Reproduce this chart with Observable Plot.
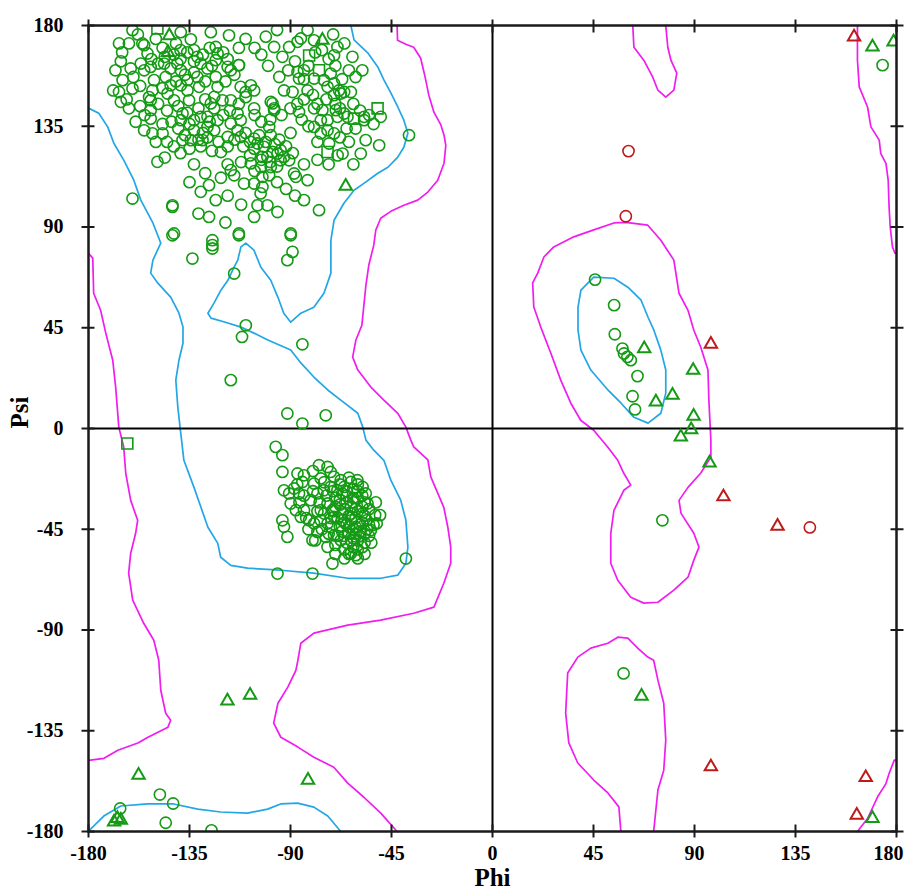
<!DOCTYPE html>
<html>
<head>
<meta charset="utf-8">
<script src="https://cdn.jsdelivr.net/npm/d3@7"></script>
<script src="https://cdn.jsdelivr.net/npm/@observablehq/plot@0.6"></script>
<style>
html, body { margin: 0; padding: 0; background: #fff; }
#chart { width: 907px; height: 896px; }
</style>
</head>
<body>
<div id="chart"></div>
<script>
// ---------- tick values ----------
const phiTicks = [-180, -135, -90, -45, 0, 45, 90, 135, 180];
const psiTicks = [-180, -135, -90, -45, 0, 45, 90, 135, 180];

// ---------- contours [phi, psi] ----------
const allowedMain = [[-42.5,180],[-42.3,173.4],[-38.6,171.6],[-35.1,170.3],[-32,165.4],[-30.2,157.8],[-28.4,149],[-26.1,141.3],[-23,135.6],[-21.6,131],[-20.8,126.5],[-21.6,118.5],[-24.4,110.9],[-28.8,105.6],[-33.3,102],[-39.5,99.7],[-45.3,97],[-49.8,93.9],[-52,88.6],[-52.9,81.9],[-55.1,73],[-56.4,64],[-57.3,55.1],[-58.2,46.1],[-60.9,39.4],[-62.3,31.9],[-60,26.1],[-54.2,18.5],[-48.4,12.7],[-42.2,6.8],[-38.6,0.6],[-36.4,-5.2],[-35.1,-8.2],[-28.8,-14],[-27.5,-21.6],[-24.4,-28.9],[-21.7,-35.2],[-19.9,-44.1],[-18.6,-53],[-18.6,-60.2],[-21.7,-69.1],[-26.1,-79.8],[-35.1,-82.5],[-49.8,-85.6],[-64.5,-87.8],[-79.6,-91.4],[-85.4,-95.9],[-86.7,-103.5],[-87.6,-108],[-91.2,-115.5],[-95.6,-122.7],[-97.5,-131.6],[-94.3,-137.9],[-86.7,-142.3],[-79.6,-146.8],[-70.7,-151.3],[-64.5,-158.4],[-57.3,-164.7],[-49.8,-171.8],[-42.5,-180]];
const allowedLeft = [[-180,78.3],[-178.1,76.1],[-177.7,60.4],[-174.6,52.8],[-172.3,42.6],[-169.2,30.5],[-167.9,18.5],[-166.5,0.6],[-164.3,-8.4],[-163.4,-20],[-161.2,-32.1],[-158.1,-41],[-159,-46.8],[-161.2,-55.7],[-162.1,-64.6],[-160.3,-76.7],[-155.4,-87],[-150.9,-94.6],[-148.7,-103.5],[-147.8,-116.9],[-145.6,-127.2],[-143.4,-130.3],[-144.6,-133.4],[-153.5,-137.9],[-158,-140.5],[-166.9,-143.7],[-173.1,-147.3],[-180,-148.2]];
const allowedRightTop = [[162.6,180],[162.6,164.5],[163.4,152.6],[167.1,143.6],[168.6,134.7],[172.3,128.8],[173,122.8],[175.3,118.4],[176.3,110.9],[176.7,99],[177.2,90],[178.2,81.1],[179.3,78.3],[180,78.3]];
const allowedRightBottom = [[162.6,-180],[167.1,-174.2],[171.6,-164.5],[175.3,-158.6],[176.7,-154.1],[179,-148.1],[180,-148.2]];
const allowedTongue = [[62.5,180],[63,170.3],[67.4,164.5],[71.4,156.9],[73.7,151.1],[77.2,148],[80.8,151.1],[82.1,158.7],[79.5,164.5],[78.1,170.3],[77.2,180]];
const allowedBlob = [[57.2,-180],[56.3,-169],[51.4,-162.8],[45.1,-157],[38,-149.4],[34,-140.4],[32.6,-127.1],[33.5,-109.2],[38,-102.1],[43.8,-98.1],[51.4,-95.9],[55.8,-93.2],[60.3,-93.6],[64.7,-98.1],[69.2,-102.1],[71.8,-103.5],[73.7,-112.4],[76.3,-122.7],[77.2,-139.2],[76.3,-152.6],[73.7,-161.5],[71.8,-180]];
const allowedAlphaL = [[59.4,92.1],[69.2,90.8],[75,84.1],[80.8,75.2],[83.1,60.4],[87.1,52.8],[89.7,43.9],[92.8,36.3],[96,26.1],[96.4,12.7],[97.3,-5.2],[97.3,-12.8],[92.8,-19.9],[87.1,-26.3],[83.1,-32.1],[84,-37.9],[89.7,-46.8],[92,-53],[89.7,-58.8],[87.1,-66.4],[80.8,-72.2],[73.7,-77.6],[67.4,-78],[61.6,-75.4],[55.8,-67.8],[52.7,-60.2],[52.7,-46.8],[54.1,-36.6],[58.5,-27.6],[61.6,-25.3],[58.5,-20],[55.8,-14.2],[51.4,-8.4],[45.1,-0.8],[39.3,3.7],[34.9,11.3],[30.4,21.6],[26,33.6],[21.5,45.3],[18.4,54.3],[17.9,65],[20.2,69.5],[22.9,76.6],[27.3,81.1],[36.2,85.6],[45.1,88.7],[54.1,91.8],[59.4,92.1]];
const favoredMain = [[-180,143.1],[-175.4,140.8],[-171.4,134.6],[-168.7,127.4],[-164.3,119.9],[-159.8,110.9],[-156.7,102],[-151.3,91.8],[-147.8,82.8],[-151.3,75.2],[-152.3,69.4],[-149.1,64.9],[-143.3,58.6],[-139.7,51.5],[-137.9,45.3],[-137.9,38.1],[-139.7,30.5],[-141.1,21.6],[-140.2,9.5],[-138.9,-2.1],[-137.5,-14.2],[-133,-26.3],[-129.9,-35.2],[-126.8,-44.1],[-122.4,-51.3],[-121.1,-57.5],[-116.6,-61.1],[-109.1,-62.4],[-94.4,-63.3],[-79.7,-64.6],[-64.5,-66.9],[-49.8,-66.9],[-42.2,-65.5],[-38.6,-60.2],[-37.7,-53],[-38.6,-40.9],[-40.9,-32],[-45.3,-23.1],[-48.4,-14.2],[-52.9,-9.7],[-56.4,-5.2],[-57.8,0.6],[-60,6.8],[-67.6,12.7],[-73.4,17.2],[-79.6,23],[-85.4,29.3],[-89.9,35.1],[-100.1,39.5],[-106.3,42.6],[-112.1,45.3],[-117.9,47.1],[-125.4,49.3],[-126.8,51.5],[-124.1,56],[-121,61.8],[-117.9,66.2],[-115.2,72],[-113.5,75.2],[-112.1,81.1],[-109.9,82.8],[-106.3,79.7],[-103.2,72],[-98.8,66.2],[-95.6,58.6],[-93,51.5],[-89.9,47.5],[-85.4,51.5],[-79.6,54.2],[-75.1,60.4],[-72,69.4],[-72,84.1],[-70.6,93],[-66.2,100.6],[-61.7,106.4],[-57.3,109.5],[-51.1,114],[-46.6,116.7],[-42.2,121.2],[-39.5,125.6],[-37.7,131.9],[-39.5,137.7],[-42.2,143.6],[-45.3,149.9],[-48.4,155.7],[-51.1,161.5],[-55.6,167.8],[-61.7,173.6],[-63.1,180]];
const favoredBottom = [[-180,-179.8],[-173.2,-173.1],[-165.6,-168.6],[-153.6,-167.7],[-142,-167.7],[-131.3,-170],[-121.1,-171.3],[-109.1,-171.8],[-100.2,-170],[-94.4,-167.7],[-86.8,-167.3],[-79.6,-169.1],[-73.4,-173.1],[-67.6,-180]];
const favoredAlphaL = [[45.1,67.6],[54.1,67.1],[60.3,63.1],[66.2,57.3],[69.3,49.7],[71.9,43.9],[75,35],[77.2,26.1],[77.2,15.8],[75,6.8],[69.3,2.4],[63,5],[57.3,11.3],[51.5,17.1],[43.8,26.1],[39.4,35],[38.1,43.9],[38.1,54.2],[39.4,61.8],[45.1,67.6]];

// ---------- residues [phi, psi] ----------
const greenCircles = [
[-160.4,177.9],[-166.4,172],[-155.2,171.2],[-138.9,177],[-141,172],[-139,169],[-134.4,173.8],[-133,169],[-125.5,177],[-117.4,175.6],[-123.3,170.4],[-122.5,167.5],[-123.3,164.5],[-116.6,160],[-113,162.3],
[-165.6,164],[-161.2,160.8],[-164.8,155.6],[-166.4,150.3],[-165.6,145.9],[-162,143],[-160.4,151.8],[-156,172],[-153.7,167.5],[-156.7,163],[-152.3,161.5],[-155.2,160],
[-150.8,155.6],[-151.5,151],[-152.3,146.6],[-152.3,142.2],[-152.3,138.4],[-155.2,133.2],[-151.5,131.8],[-147,131.8],
[-146.3,163],[-143.4,160.8],[-140.4,163],[-138.9,160],[-145.6,157],[-143.4,153.3],[-144.8,149.6],[-141.9,146.6],[-138.9,153.3],[-135.9,155.6],[-135.9,151],[-135.2,146.6],[-138.1,140.7],[-138.9,137.7],[-133,137.7],[-133,133.2],[-138.1,128.8],[-134.4,128.8],[-129.2,128.8],[-127,134.7],[-130,139.2],[-127,139.2],[-124,133.2],[-122.5,137.7],[-125.5,145.2],[-124,148.1],[-120.3,146.6],[-122.5,152.6],[-130.7,152.6],[-131.5,157],[-130,163],[-131.5,166],[-127,160.8],[-123.3,157],
[-118,161.5],[-113,162.3],[-112.2,152.6],[-107.7,153.3],[-106.2,151],[-110,150.3],[-116.6,146.6],[-106.2,143],[-113.6,140.7],[-112.2,137.7],[-116.6,136.2],[-113.6,133.2],[-112.2,130.2],[-118,130.2],[-121,123.5],[-116.6,115.4],[-115.1,113.1],[-110.7,109.4],
[-106.2,129.5],[-104.7,127.3],[-106.2,125],[-101.8,125.8],[-98,123.5],[-94.4,124.3],[-92.9,121.3],[-90.6,119.8],[-94.4,119.8],[-95.8,122.8],[-100.3,121.3],[-102.5,121.3],[-107.7,118.4],[-103.2,116.8],[-98.8,116.8],
[-98.8,145.9],[-97.3,143],[-99.5,134.7],[-98.8,131],[-88.4,113.9],[-87.6,112.4],[-82.4,110.9],
[-102.5,112.4],[-99.5,113.1],[-106.2,109.4],[-102.5,107.9],[-103.3,105],[-104.7,99.7],[-100.3,99.7],[-95.8,96.7],[-106.2,94.5],
[-130,105.7],[-126.3,108.7],[-123.3,102],[-126.3,94.5],[-142.6,99.7],[-141.9,87.1],[-160.4,102.7],[-149.3,119.1],
[-113,87.1],[-89.9,87.1],[-124.8,84.1],[-84,102],[-77.3,97.5],
[-97.3,170.4],[-93.6,166],[-90.6,170.4],[-86.9,172.7],[-85.4,174.2],[-82.4,177.9],[-79.5,173.4],[-69.1,170.4],[-70.6,166.7],[-62.4,166],
[-86.9,159.3],[-84,160],[-86.2,156.3],[-79.5,156.3],[-75.1,155.6],[-72.1,158.5],[-70.6,154.1],[-68.4,151],[-66.1,150.3],[-63.1,150.3],[-73.5,152.6],[-70.6,148.9],[-67.6,149.6],
[-92.9,151],[-89.1,150.3],[-82.4,151],[-98,145.2],[-97.3,142.2],[-86.2,141.4],
[-79.5,143],[-75.8,142.2],[-73.5,137.7],[-69.8,142.2],[-69.1,139.2],[-66.1,140.7],[-57.2,139.2],[-49.8,139.2],[-57.2,137.7],[-76.5,137.7],[-79.5,134.7],[-73.5,133.2],[-70.6,131.8],[-76.5,131.8],[-64.6,139.2],
[-72.8,127.3],[-66.8,122.8],[-58.7,122.8],[-56.5,128.8],[-50.5,126.5],[-37.2,131],
[-142.6,99],[-124.8,81.9],[-124.8,80.4],[-142.6,86.3],[-113,86.3],[-89.9,86.3],[-133.7,75.9],[-89.1,78.9],[-91.4,75.2],[-115.1,69.2],
[-109.9,46.1],[-111.6,40.9],[-84.7,37.6],[-116.6,21.6],[-91.4,6.7],[-74.3,5.9],[-84.7,2.2],
[-158,176],[-150,174],[-147,170],[-152,165],[-149,163],[-146,166],[-142,167],[-139,165],[-136,168],[-133,164],[-129,167],[-126,170],[-120,168],[-118,165],[-115,158],[-119,155],[-125,162],[-128,155],[-133,159],[-137,158],[-141,155],[-147,152],[-153,148],[-157,144],[-149,145],[-145,142],[-140,144],[-136,141],[-131,143],[-128,147],[-124,143],[-120,140],[-117,142],[-126,137],[-129,132],[-131,129],[-135,136],[-137,131],[-140,134],[-143,137],[-147,136],[-150,128],[-145,128],[-142,126],[-135,125],[-130,126],[-127,130],[-122,128],[-118,126],[-125,124],
[-110,132],[-108,128],[-104,131],[-101,128],[-97,127],[-95,129],[-92,126],[-89,123],[-99,119],[-96,117],[-108,122],[-111,126],[-115,129],[-113,145],[-110,148],[-106,140],[-103,137],[-99,138],[-94,140],[-90,143],[-87,145],[-84,147],[-80,149],[-78,145],[-74,147],[-70,145],[-68,143],[-62,145],[-59,142],[-55,140],[-53,136],[-61,134],[-65,134],[-68,130],[-64,128],[-78,128],[-82,135],[-85,138],[-90,132],
[-84,156],[-82,162],[-79,168],[-73,165],[-70,162],[-67,156],[-64,160],[-61,157],[-58,160],[-66,172],[-71,176],[-76,169],[-88,164],[-91,160],[-95,157],[-100,162],[-103,167],[-106,170],[-101,175],[-96,178],[-110,174],[-113,170],
[-165,168],[-162,172],[-168,160],[-160,157],[-157,153],[-163,147],[-169,151],[-159,137],[-155,140],[-146,121],[-139,123],[-133,118],[-128,114],[-121,112],[-118,118],[-112,119],[-106,115],[-103,120],[-96,110],[-92,107],[-88,104],[-84,118],[-78,120],[-73,118],[-69,122],[-62,118],[-112,100],[-118,104],[-135,110],[-131,96],[-119,92],
// alpha region
[-96.6,-8.2],[-93.6,-11.9],[-93.6,-19.4],[-92.9,-27.6],[-90.6,-29],[-93.6,-41],[-92.9,-43.9],[-91.4,-48.4],[-95.8,-64.8],[-80.2,-64.8],[-71.3,-60.3],[-38.6,-58.1],
[-80.2,-49.9],[-73.5,-52.9],[-63.1,-55.8],[-60.9,-56.6],[-52.3,-38.7],[-50.1,-38.7],[-51.6,-42.4],[-54.2,-45.4],
[-77.3,-16.4],[-73.5,-17.2],[-72.1,-19.4],[-86.9,-20.1],[-84,-20.9],[-84.7,-23.9],[-88.4,-26.8],[-86.2,-29],[-89.9,-33.5],[-87.6,-36.5],[-84,-36.5],[-85.4,-39.5],[-81.7,-41],
[-79.5,-42.4],[-76.5,-41],[-73.5,-42.4],[-70.6,-39.5],[-78,-46.2],[-74.3,-48.4],[-70.6,-47.7],[-67.6,-49.9],
[-81,-32],[-78,-29],[-75.1,-27.6],[-72.1,-26.1],[-69.1,-27.6],[-66.1,-26.1],[-67.6,-23.1],[-79.5,-24.6],[-76.5,-22.3],[-70.6,-21.6],[-63.1,-23.9],[-60.2,-23.1],[-57.9,-26.1],[-55.7,-33.5],[-56.5,-29],[-73.5,-33.5],[-76.5,-36.5],[-71.3,-36.5],
[-68,-32],[-65,-30],[-62,-33],[-60,-31],[-58,-35],[-66,-36],[-63,-38],[-60,-37],[-57,-39],[-69,-40],[-66,-42],[-63,-41],[-61,-44],[-58,-42],[-56,-45],[-67,-46],[-64,-47],[-62,-49],[-59,-48],[-57,-51],[-65,-51],[-62,-53],[-60,-54],[-67,-38],[-64,-44],[-61,-40],[-59,-46],[-63,-35],[-66,-48],[-58,-38],[-60,-50],[-64,-39],[-62,-45],[-68,-44],[-56,-41],[-65,-33],[-61,-36],[-59,-43],[-63,-50],[-66,-54],[-60,-28],[-57,-33],[-70,-35],[-62,-27],[-65,-43],[-61,-47],[-64,-56],[-58,-53],[-67,-29],[-55,-48],
[-80,-28],[-77,-33],[-74,-30],[-71,-28],[-75,-38],[-72,-44],[-69,-48],[-70,-52],[-73,-47],[-78,-37],[-82,-45],[-84,-30],[-87,-25],[-80,-19],[-75,-24],[-70,-31],[-68,-25],[-64,-22],[-60,-25],[-58,-30],[-55,-36],[-53,-43],[-52,-33],[-54,-51],[-57,-56],[-60,-58],[-66,-58],[-70,-56],[-68,-34],[-71,-37],[-67,-41],[-72,-40],[-76,-45],[-79,-50],[-83,-40],[-86,-33],[-62,-31],[-57,-47],[-55,-43],[-65,-28],
// lower left
[-165.9,-169.7],[-148.2,-163.5],[-142.3,-167.5],[-145.6,-176.1],[-125.2,-179.5],
// right half
[45.7,66.5],[54.2,55.1],[54.5,42.1],[57.9,35.7],[58.6,33.5],[60.1,32],[61.6,30.5],[64.6,23.4],[62.4,14.4],[63.5,8.5],[75.7,-41],[58.4,-109.4],[173.8,162.3]
];
const greenSquares = [[-149.3,178.7],[-81.7,166.6],[-77.3,160],[-61.7,138.4],[-51.2,143],[-73.5,123.5],[-162.7,-6.7]];
const greenTriangles = [[-144,175.5],[-144.6,168],[-75.8,173.4],[-65.4,108.2],[-118.1,-121.7],[-108,-119.1],[-157.7,-154.8],[-82.2,-157.1],[-167.1,-174.2],[-165.6,-174.9],[-168.6,-175.7],
[67.6,35.7],[89.4,26],[80.2,14.9],[72.8,11.9],[89.6,5.5],[88.5,-0.5],[83.9,-3.8],[96.7,-15.4],[66.4,-119.6],[169.3,-174.2],[169.3,170.4],[178.7,172.7]];
const redCircles = [[60.6,123.9],[59.4,94.8],[141.4,-44.2]];
const redTriangles = [[161.1,174.9],[97.3,37.7],[102.9,-30.5],[127,-43.6],[97.3,-151.1],[166.3,-155.9],[162.3,-172.7]];

// ---------- build tables ----------
const magentaLines = [allowedMain, allowedLeft, allowedRightTop, allowedRightBottom, allowedTongue, allowedBlob, allowedAlphaL]
  .flatMap((pts, i) => pts.map(([phi, psi]) => ({phi, psi, k: i})));
const cyanLines = [favoredMain, favoredBottom, favoredAlphaL]
  .flatMap((pts, i) => pts.map(([phi, psi]) => ({phi, psi, k: i})));

const GREEN = "#149a14";
const RED = "#bf1a1a";
const MAGENTA = "#f01cf0";
const CYAN = "#22a6e6";
const AXIS = "#1a1a1a";
const fmt = d => String(d);
const innerPhi = phiTicks.filter(d => d < 180);
const lastPhi = phiTicks.filter(d => d === 180);

const chart = Plot.plot({
  width: 907,
  height: 896,
  marginTop: 25,
  marginBottom: 65,
  marginLeft: 88,
  marginRight: 11,
  x: {domain: [-180, 180]},
  y: {domain: [-180, 180]},
  style: {
    fontFamily: "'Liberation Serif', 'Times New Roman', serif",
    fontWeight: "bold",
    fontSize: "20px",
    color: "#000",
    background: "#fff"
  },
  marks: [
    Plot.line(magentaLines, {x: "phi", y: "psi", z: "k", stroke: MAGENTA, strokeWidth: 1.7}),
    Plot.line(cyanLines, {x: "phi", y: "psi", z: "k", stroke: CYAN, strokeWidth: 1.7}),
    Plot.ruleX([0], {stroke: "#000", strokeWidth: 2}),
    Plot.ruleY([0], {stroke: "#000", strokeWidth: 2}),
    Plot.dot(greenCircles, {x: d => d[0], y: d => d[1], r: 5.6, stroke: GREEN, strokeWidth: 1.6, fill: "none", clip: true}),
    Plot.dot(greenSquares, {x: d => d[0], y: d => d[1], symbol: "square", r: 6.2, stroke: GREEN, strokeWidth: 1.6, fill: "none", clip: true}),
    Plot.dot(greenTriangles, {x: d => d[0], y: d => d[1], symbol: "triangle", r: 4.6, stroke: GREEN, strokeWidth: 2, fill: "none", clip: true}),
    Plot.dot(redCircles, {x: d => d[0], y: d => d[1], r: 5.6, stroke: RED, strokeWidth: 1.6, fill: "none", clip: true}),
    Plot.dot(redTriangles, {x: d => d[0], y: d => d[1], symbol: "triangle", r: 4.6, stroke: RED, strokeWidth: 2, fill: "none", clip: true}),
    Plot.frame({stroke: AXIS, strokeWidth: 2.5}),
    // tick labels
    Plot.axisX({ticks: innerPhi, tickFormat: fmt, tickSize: 0, tickPadding: 14, label: null, fill: "#000"}),
    Plot.axisX({ticks: lastPhi, tickFormat: fmt, tickSize: 0, tickPadding: 14, label: null, fill: "#000", dx: -8}),
    Plot.axisY({ticks: psiTicks, tickFormat: fmt, tickSize: 0, tickPadding: 25, label: null, fill: "#000"}),
    // tick marks crossing all four sides
    Plot.axisX({anchor: "bottom", ticks: phiTicks, tickFormat: () => "", tickSize: 13, dy: -6.5, label: null, stroke: AXIS, strokeWidth: 2}),
    Plot.axisX({anchor: "top", ticks: phiTicks, tickFormat: () => "", tickSize: 13, dy: 6.5, label: null, stroke: AXIS, strokeWidth: 2}),
    Plot.axisY({anchor: "left", ticks: psiTicks, tickFormat: () => "", tickSize: 13, dx: 6.5, label: null, stroke: AXIS, strokeWidth: 2}),
    Plot.axisY({anchor: "right", ticks: psiTicks, tickFormat: () => "", tickSize: 13, dx: -6.5, label: null, stroke: AXIS, strokeWidth: 2}),
    // axis titles
    Plot.text(["Phi"], {frameAnchor: "bottom", dy: 54, fontSize: 25, fontWeight: "bold", fill: "#000"}),
    Plot.text(["Psi"], {frameAnchor: "left", dx: -69, rotate: -90, fontSize: 25, fontWeight: "bold", fill: "#000"})
  ]
});
document.getElementById("chart").appendChild(chart);
</script>
</body>
</html>
